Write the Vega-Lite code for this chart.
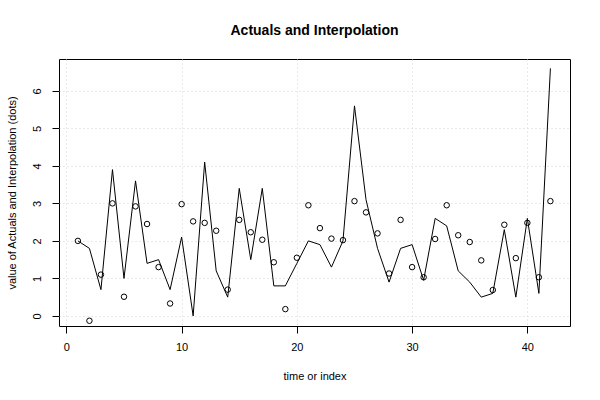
{
  "$schema": "https://vega.github.io/schema/vega-lite/v6.json",
  "autosize": "none",
  "width": 511,
  "height": 267,
  "padding": {"left": 59, "top": 59, "right": 30, "bottom": 74},
  "background": "white",
  "title": {
    "text": "Actuals and Interpolation",
    "font": "Liberation Sans",
    "fontSize": 14,
    "fontWeight": "bold",
    "color": "black",
    "anchor": "middle",
    "offset": 21
  },
  "config": {
    "view": {"stroke": "black", "strokeWidth": 1},
    "axis": {
      "labelFont": "Liberation Sans",
      "titleFont": "Liberation Sans",
      "labelFontSize": 11,
      "titleFontSize": 11,
      "titleFontWeight": "normal",
      "labelColor": "black",
      "titleColor": "black",
      "domain": false,
      "tickColor": "black",
      "tickSize": 7,
      "grid": true,
      "gridColor": "#d3d3d3",
      "gridDash": [1, 3],
      "gridWidth": 1
    }
  },
  "data": {
    "values": [
      {"t": 1, "actual": 2.0, "interp": 2.0},
      {"t": 2, "actual": 1.8, "interp": -0.13},
      {"t": 3, "actual": 0.7, "interp": 1.1},
      {"t": 4, "actual": 3.9, "interp": 3.0},
      {"t": 5, "actual": 1.0, "interp": 0.51},
      {"t": 6, "actual": 3.6, "interp": 2.92},
      {"t": 7, "actual": 1.4, "interp": 2.45},
      {"t": 8, "actual": 1.5, "interp": 1.3},
      {"t": 9, "actual": 0.7, "interp": 0.33},
      {"t": 10, "actual": 2.1, "interp": 2.98},
      {"t": 11, "actual": 0.0, "interp": 2.52},
      {"t": 12, "actual": 4.1, "interp": 2.48},
      {"t": 13, "actual": 1.2, "interp": 2.27},
      {"t": 14, "actual": 0.5, "interp": 0.7},
      {"t": 15, "actual": 3.4, "interp": 2.56},
      {"t": 16, "actual": 1.5, "interp": 2.23},
      {"t": 17, "actual": 3.4, "interp": 2.03},
      {"t": 18, "actual": 0.8, "interp": 1.43},
      {"t": 19, "actual": 0.8, "interp": 0.18},
      {"t": 20, "actual": 1.4, "interp": 1.55},
      {"t": 21, "actual": 2.0, "interp": 2.95},
      {"t": 22, "actual": 1.9, "interp": 2.34},
      {"t": 23, "actual": 1.3, "interp": 2.06},
      {"t": 24, "actual": 2.0, "interp": 2.02},
      {"t": 25, "actual": 5.6, "interp": 3.06},
      {"t": 26, "actual": 3.1, "interp": 2.76},
      {"t": 27, "actual": 1.8, "interp": 2.2},
      {"t": 28, "actual": 0.9, "interp": 1.13},
      {"t": 29, "actual": 1.8, "interp": 2.56},
      {"t": 30, "actual": 1.9, "interp": 1.3},
      {"t": 31, "actual": 0.95, "interp": 1.03},
      {"t": 32, "actual": 2.6, "interp": 2.05},
      {"t": 33, "actual": 2.4, "interp": 2.95},
      {"t": 34, "actual": 1.2, "interp": 2.15},
      {"t": 35, "actual": 0.9, "interp": 1.97},
      {"t": 36, "actual": 0.5, "interp": 1.48},
      {"t": 37, "actual": 0.6, "interp": 0.69},
      {"t": 38, "actual": 2.3, "interp": 2.43},
      {"t": 39, "actual": 0.5, "interp": 1.54},
      {"t": 40, "actual": 2.6, "interp": 2.48},
      {"t": 41, "actual": 0.6, "interp": 1.03},
      {"t": 42, "actual": 6.6, "interp": 3.06}
    ]
  },
  "encoding": {
    "x": {
      "field": "t",
      "type": "quantitative",
      "scale": {"domain": [-0.64, 43.7], "nice": false, "zero": false},
      "axis": {
        "values": [0, 10, 20, 30, 40],
        "title": "time or index",
        "labelPadding": 8,
        "titlePadding": 18
      }
    }
  },
  "layer": [
    {
      "mark": {"type": "line", "color": "black", "strokeWidth": 1},
      "encoding": {
        "y": {
          "field": "actual",
          "type": "quantitative",
          "scale": {"domain": [-0.27, 6.85], "nice": false, "zero": false},
          "axis": {
            "values": [0, 1, 2, 3, 4, 5, 6],
            "title": "value of Actuals and Interpolation (dots)",
            "labelAngle": -90,
            "labelAlign": "center",
            "labelBaseline": "bottom",
            "labelPadding": 10,
            "titlePadding": 14
          }
        }
      }
    },
    {
      "mark": {"type": "point", "shape": "circle", "filled": false, "color": "black", "size": 30, "strokeWidth": 1, "opacity": 1},
      "encoding": {
        "y": {"field": "interp", "type": "quantitative"}
      }
    }
  ]
}
